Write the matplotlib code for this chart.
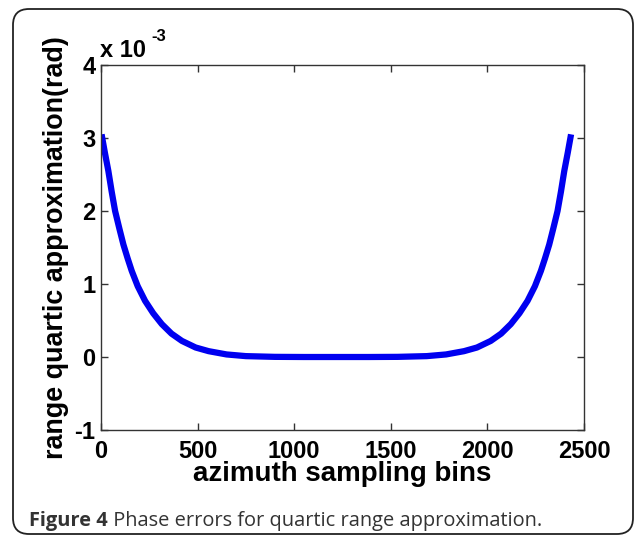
import matplotlib.pyplot as plt
from matplotlib.patches import FancyBboxPatch

plt.rcParams["axes.unicode_minus"] = False

# phase error (y in units of 1e-3 rad)
bins = [3, 20, 38, 55, 73, 95, 116, 138, 159, 190, 228, 270, 315, 365, 419,
        490, 557, 650, 750, 900, 1050, 1218, 1386, 1536, 1686, 1786, 1879,
        1946, 2017, 2071, 2121, 2166, 2208, 2246, 2277, 2298, 2320, 2341,
        2363, 2381, 2398, 2416, 2433]
phase_err = [3.05, 2.80, 2.55, 2.27, 2.00, 1.76, 1.54, 1.35, 1.18, 0.97, 0.77,
             0.60, 0.45, 0.32, 0.22, 0.13, 0.08, 0.035, 0.012, 0.002, 0.0, 0.0,
             0.0, 0.002, 0.012, 0.035, 0.08, 0.13, 0.22, 0.32, 0.45, 0.60,
             0.77, 0.97, 1.18, 1.35, 1.54, 1.76, 2.00, 2.27, 2.55, 2.80, 3.05]
xticks = [0, 500, 1000, 1500, 2000, 2500]
yticks = [-1, 0, 1, 2, 3, 4]

W, H = 635, 536
fig = plt.figure(figsize=(W / 100, H / 100), dpi=100)

# background canvas in pixel units for the rounded frame and caption
bg = fig.add_axes([0, 0, 1, 1])
bg.set_xlim(0, W)
bg.set_ylim(H, 0)
bg.axis("off")
frame = FancyBboxPatch((13, 9), 620, 525, boxstyle="round,pad=0,rounding_size=16",
                       fc="white", ec="#222222", lw=1.3)
bg.add_patch(frame)
cap = bg.text(29, 526, "Figure 4", fontsize=14.4, fontweight="bold", color="#333333",
              family="Open Sans", va="baseline")
bg.annotate(" Phase errors for quartic range approximation.", xycoords=cap,
            xy=(1, 0), va="bottom", fontsize=14.4, color="#333333", family="Open Sans")

# MATLAB style exponent label
bg.text(100, 57, "x 10", fontsize=17, fontweight="bold", family="Liberation Sans",
        va="baseline", ha="left")
bg.text(151, 41, "-3", fontsize=12, fontweight="bold", family="Liberation Sans",
        va="baseline", ha="left")

ax = fig.add_axes([101 / W, 1 - 430 / H, (584 - 101) / W, (430 - 65) / H])
ax.plot(bins, phase_err, color="#0000f0", lw=4.5, solid_capstyle="butt")
ax.set_xlim(0, 2500)
ax.set_ylim(-1, 4)
ax.set_xticks(xticks)
ax.set_yticks(yticks)
ax.tick_params(direction="in", top=True, right=True, length=5, width=1,
               color="#333333", labelsize=17)
ax.tick_params(axis="x", pad=7)
ax.tick_params(axis="y", pad=4)
for lab in ax.get_xticklabels() + ax.get_yticklabels():
    lab.set_fontweight("bold")
    lab.set_family("Liberation Sans")
for sp in ax.spines.values():
    sp.set_color("#333333")
    sp.set_linewidth(1)

ax.set_xlabel("azimuth sampling bins", fontsize=20, fontweight="bold",
              family="Liberation Sans", labelpad=-1)
ax.set_ylabel("range quartic approximation(rad)", fontsize=19.4, fontweight="bold",
              family="Liberation Sans", labelpad=4)

fig.savefig("out.png", dpi=100)
